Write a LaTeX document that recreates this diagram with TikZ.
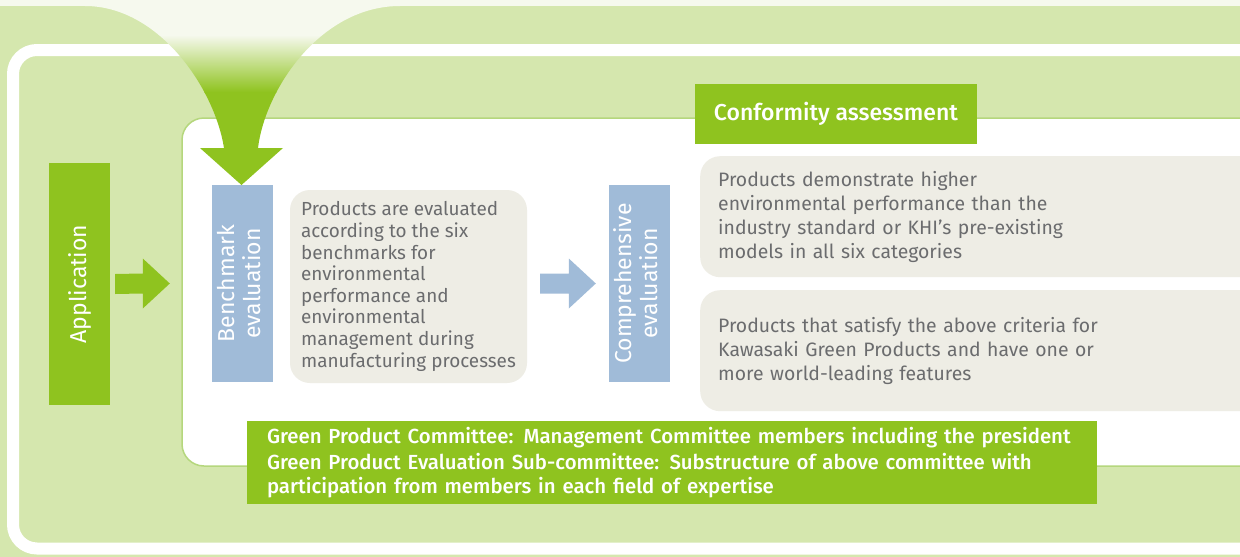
\documentclass[tikz,border=0pt]{standalone}
\usepackage{graphicx}
\usepackage{fontspec}
\setmainfont{Fira Sans}[BoldFont={Fira Sans Medium}]
\usetikzlibrary{calc, positioning}
\definecolor{leafgreen}{HTML}{8FC31F}
\definecolor{palegreen}{HTML}{D5E7AE}
\definecolor{rimgreen}{HTML}{B5D77D}
\definecolor{steelblue}{HTML}{A0BBD8}
\definecolor{stonegrey}{HTML}{EEEDE5}
\definecolor{inkgrey}{HTML}{6B6C6E}
\definecolor{mistwhite}{HTML}{F6F9EE}

\newcommand{\blockarrow}[3]{%
  \fill[#3] ($(#1)+(0,-10)$) -- ($(#2)+(-27,-10)$) -- ($(#2)+(-27,-25)$) -- (#2)
    -- ($(#2)+(-27,25)$) -- ($(#2)+(-27,10)$) -- ($(#1)+(0,10)$) -- cycle;}

\begin{document}
\begin{tikzpicture}[x=1pt, y=-1pt,
  stagebox/.style={fill=steelblue, text=white, minimum width=61pt, minimum height=197pt,
    inner sep=0pt, font=\fontsize{23}{26}\selectfont},
  notebox/.style={fill=stonegrey, rounded corners=20pt, text=inkgrey, align=left,
    font=\fontsize{18.9}{21.6}\selectfont},
  critbox/.style={notebox, anchor=north west, text width=524pt, inner xsep=18pt,
    minimum height=121pt, font=\fontsize{19.4}{24}\selectfont},
  greentab/.style={fill=leafgreen, text=white, inner sep=0pt}]
\useasboundingbox (0,0) rectangle (1240,557);

\fill[mistwhite] (0,0) rectangle (1240,557);
\fill[palegreen] (0,6) rectangle (1240,557);
\draw[white, line width=12pt, rounded corners=24pt] (13,50) rectangle (1290,548.5);
\draw[rimgreen, line width=1.5pt, fill=white, rounded corners=22pt] (182,118) rectangle (1280,466);

\begin{scope}
  \clip (85,6) .. controls (160,6) and (215,90) .. (224,148) -- (200,148) -- (241.5,185)
    -- (283,148) -- (258,148) .. controls (265,90) and (320,6) .. (400,6) -- cycle;
  \fill[mistwhite] (80,0) rectangle (410,35);
  \shade[top color=mistwhite, bottom color=leafgreen] (80,35) rectangle (410,92);
  \fill[leafgreen] (80,92) rectangle (410,190);
\end{scope}

\node[stagebox, fill=leafgreen, minimum height=242pt] (app) at (79.5,284) {\rotatebox{90}{Application}};
\node[stagebox] (bench) at (242.5,283.5) {\rotatebox{90}{\begin{tabular}{@{}c@{}}Benchmark\\evaluation\end{tabular}}};
\node[notebox, minimum width=237pt, minimum height=193pt] (benchtxt) at (408.5,286.5)
  {Products are evaluated\\according to the six\\benchmarks for\\environmental\\performance and\\environmental\\management during\\manufacturing processes};
\node[stagebox] (compr) at (639.5,283.5) {\rotatebox{90}{\begin{tabular}{@{}c@{}}Comprehensive\\evaluation\end{tabular}}};

\node[greentab, minimum width=282pt, minimum height=60pt, font=\bfseries\fontsize{23}{26}\selectfont] (conf) at (836,114) {Conformity assessment};
\node[critbox] (critA) at (700,156) {Products demonstrate higher\\environmental performance than the\\industry standard or KHI’s pre-existing\\models in all six categories};
\node[critbox] (critB) at (700,290) {Products that satisfy the above criteria for\\Kawasaki Green Products and have one or\\more world-leading features};

\node[greentab, minimum width=850pt, minimum height=83pt, text width=810pt, inner xsep=20pt, align=left,
  font=\bfseries\fontsize{20.4}{24}\selectfont] (committee) at (672,462.5)
  {Green Product Committee: Management Committee members including the president\\[2.5pt]
   Green Product Evaluation Sub-committee: Substructure of above committee with\\
   participation from members in each field of expertise};

\coordinate (appout) at ($(app.east)+(5,0)$);
\coordinate (benchin) at ($(bench.west)+(-42,0)$);
\coordinate (txtout) at ($(benchtxt.east |- compr.west)+(13,0)$);
\coordinate (comprin) at ($(compr.west)+(-13,0)$);
\blockarrow{appout}{benchin}{leafgreen}
\blockarrow{txtout}{comprin}{steelblue}
\end{tikzpicture}
\end{document}
